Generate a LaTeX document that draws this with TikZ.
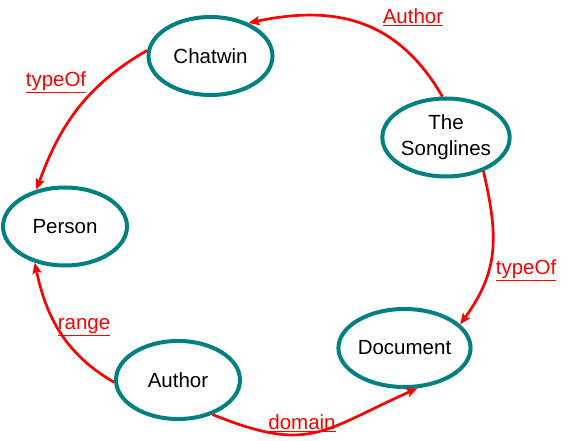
\documentclass[tikz,border=0pt]{standalone}
\usepackage{fontspec}
\setmainfont{Liberation Sans}
\usetikzlibrary{shapes.geometric, arrows.meta, positioning}
\definecolor{myteal}{RGB}{0,128,128}
\definecolor{myred}{RGB}{255,0,0}
\tikzset{
  classnode/.style={ellipse, draw=myteal, line width=4pt,
    minimum width=124pt, minimum height=78pt, inner sep=0pt,
    align=center, font=\fontsize{20.5}{26}\selectfont},
  relarrow/.style={-{Stealth[length=11pt, width=9pt, inset=2pt]},
    line width=2.7pt, color=myred},
  rellabel/.style={text=myred, inner sep=1pt,
    font=\fontsize{20.5}{24}\selectfont}
}

\begin{document}
\begin{tikzpicture}[x=1pt, y=1pt]
  \useasboundingbox (0,0) rectangle (568,441);

  % Resources and classes
  \node[classnode] (chatwin) at (210.5,385) {Chatwin};
  \node[classnode] (songlines) at (446,303.5) {The\\Songlines};
  \node[classnode] (person) at (65,214.5) {Person};
  \node[classnode] (document) at (404.5,93) {Document};
  \node[classnode] (author) at (178,61) {Author};

  % Properties
  \draw[relarrow] (songlines.95) to[out=120, in=12, looseness=1.1] (chatwin.41);
  \draw[relarrow] (chatwin.175) to[out=210, in=70] (person.128);
  \draw[relarrow] (songlines.-42) to[out=-77, in=54, looseness=1.1] (document.23);
  \draw[relarrow] (author.182) to[out=150, in=-78] (person.230);
  \draw[relarrow] (author.-45) to[out=-22, in=-156, looseness=1.3] (document.-72);

  % Property labels
  \node[rellabel] (lauthor) at (413,424) {\underline{Author}};
  \node[rellabel] (ltypeperson) at (56,359) {\underline{typeOf}};
  \node[rellabel] (ltypedoc) at (526,171) {\underline{typeOf}};
  \node[rellabel] (lrange) at (84,114) {\underline{range}};
  \node[rellabel] (ldomain) at (302,18) {\underline{domain}};
\end{tikzpicture}
\end{document}
